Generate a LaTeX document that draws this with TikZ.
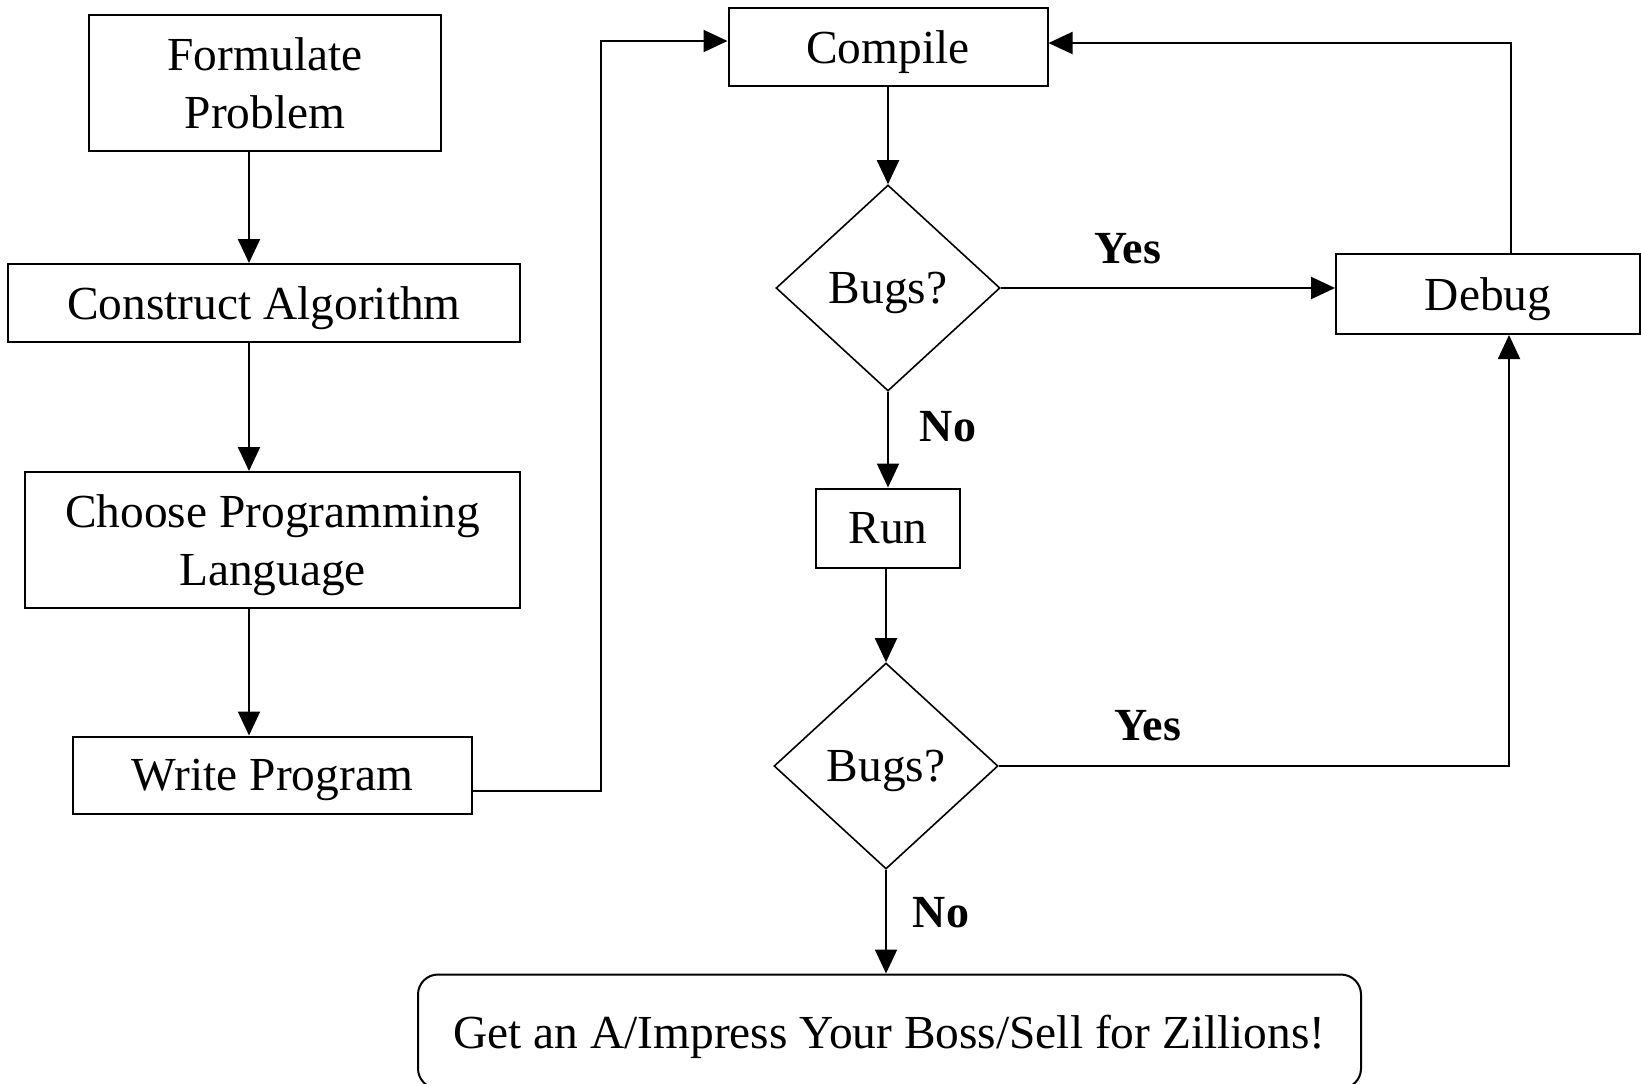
\documentclass[tikz,border=0pt]{standalone}
\usepackage{fontspec}
\setmainfont{Liberation Serif}
\usetikzlibrary{arrows.meta,shapes.geometric}

\begin{document}
\begin{tikzpicture}[x=0.5pt,y=-0.5pt,>={Triangle[length=12pt,width=11pt]},
  box/.style={draw,line width=1pt,inner sep=0pt,text depth=0pt,align=center,font=\fontsize{23.7}{28.8}\selectfont},
  bugs/.style={draw,diamond,line width=0.8pt,inner sep=0pt,text depth=0pt,minimum width=112pt,minimum height=103pt,font=\fontsize{23.7}{28.8}\selectfont},
  lbl/.style={font=\fontsize{23}{28}\selectfont\bfseries},
  flow/.style={->,line width=1pt}]
  \useasboundingbox (0,0) rectangle (1641,1083);
  % left column
  \node[box,minimum width=176pt,minimum height=68pt] (form) at (265,83) {Formulate\\Problem};
  \node[box,minimum width=256pt,minimum height=39pt] (cons) at (264,303) {Construct Algorithm};
  \node[box,minimum width=247.5pt,minimum height=68pt] (lang) at (272.5,540) {Choose Programming\\Language};
  \node[box,minimum width=199.5pt,minimum height=38.5pt] (write) at (272.5,775) {Write Program};
  % right part
  \node[box,minimum width=159.5pt,minimum height=39pt] (comp) at (888,47) {Compile};
  \node[bugs] (bug1) at (888,288) {Bugs?};
  \node[box,minimum width=152pt,minimum height=40pt] (debug) at (1488,294) {Debug};
  \node[box,minimum width=72pt,minimum height=39.5pt] (run) at (888,528) {Run};
  \node[bugs] (bug2) at (886,766) {Bugs?};
  \node[box,rounded corners=10pt,minimum width=471.5pt,minimum height=57pt] (goal) at (889.5,1031.5) {Get an A/Impress Your Boss/Sell for Zillions!};
  % bends
  \coordinate (lx) at (249,0);
  \coordinate (c1) at (601,791);
  \coordinate (c2) at (601,41);
  \coordinate (c3) at (1511,43);
  \coordinate (c4) at (1509,766);
  % connectors
  \draw[flow] (form.south -| lx) -- (cons.north -| lx);
  \draw[flow] (cons.south -| lx) -- (lang.north -| lx);
  \draw[flow] (lang.south -| lx) -- (write.north -| lx);
  \draw[flow] (write.east |- c1) -- (c1) -- (c2) -- (comp.west |- c2);
  \draw[flow] (comp.south) -- (bug1.north);
  \draw[flow] (bug1.east) -- (bug1.east -| debug.west);
  \draw[flow] (debug.north -| c3) -- (c3) -- (comp.east |- c3);
  \draw[flow] (bug1.south) -- (run.north);
  \draw[flow] (run.south -| bug2.north) -- (bug2.north);
  \draw[flow] (bug2.east) -- (c4) -- (debug.south -| c4);
  \draw[flow] (bug2.south) -- (bug2.south |- goal.north);
  % labels
  \node[lbl] (yes1) at (1128,249) {Yes};
  \node[lbl] (no1) at (948,427) {No};
  \node[lbl] (yes2) at (1148,726) {Yes};
  \node[lbl] (no2) at (941,913) {No};
\end{tikzpicture}
\end{document}
